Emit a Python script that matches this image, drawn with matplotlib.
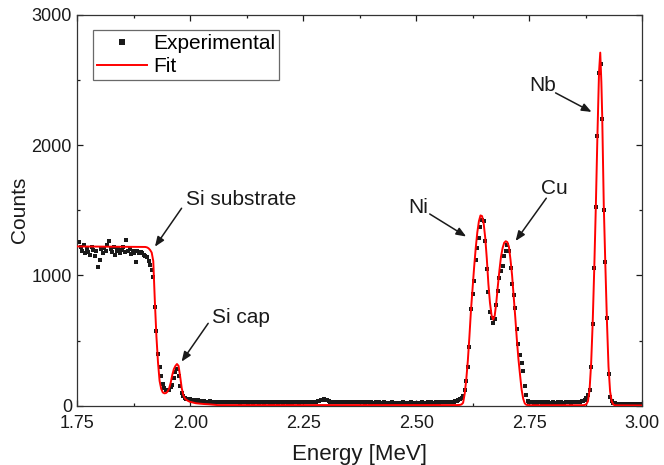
import numpy as np
import matplotlib
matplotlib.use("Agg")
import matplotlib.pyplot as plt

plt.rcParams["font.family"] = ["Liberation Sans", "DejaVu Sans"]

# canales del espectro RBS (calibracion en energia)
e0 = 1.7533
paso = 0.0035

# cuentas experimentales por canal
cuentas = [
    1256, 1215, 1190, 1230, 1170, 1205, 1180, 1160, 1215, 1195,
    1150, 1185, 1062, 1118, 1200, 1175, 1210, 1190, 1230, 1266,
    1200, 1180, 1215, 1160, 1190, 1205, 1170, 1195, 1220, 1180,
    1272, 1185, 1200, 1165, 1190, 1175, 1105, 1185, 1170, 1180,
    1175, 1160, 1150, 1140, 1110, 1080, 1040, 990, 760, 570,
    400, 300, 230, 170, 135, 120, 118, 120, 140, 160,
    210, 260, 285, 230, 150, 100, 75, 60, 55, 52,
    48, 45, 42, 40, 38, 40, 35, 36, 33, 34, 30,
    32, 30, 33, 29, 31, 28, 30, 27, 29, 31, 26, 28, 30, 27, 25, 28, 26, 29, 27, 25,
    27, 24, 26, 28, 25, 27, 23, 26, 28, 24, 26, 25, 27, 23, 25, 28, 24, 26, 25, 27,
    24, 26, 23, 27, 25, 24, 28, 26, 23, 25, 27, 24, 26, 25, 23, 27, 25, 26, 24, 28,
    26, 25, 27, 26, 28, 27, 29, 28, 27, 30, 33, 37, 42, 47, 50, 46, 40, 34, 30, 28,
    27, 26, 29, 28, 30, 27, 29, 31, 28, 30, 29, 27, 30, 28, 26, 29, 27, 25, 28, 26,
    24, 26, 25, 23, 27, 24, 22, 25, 23, 26, 24, 22, 25, 23, 21, 24, 22, 25, 23, 21,
    24, 22, 20, 23, 25, 22, 24, 21, 23, 25, 22, 24, 23, 21, 24, 22, 25, 23, 24, 22,
    25, 23, 26, 24, 22, 25, 27, 24, 26, 25, 28, 26, 27, 29, 28, 30, 31, 33,
    35, 40, 48, 60,
    75, 120, 190, 300, 450, 740, 860, 960, 1120, 1210, 1290, 1370, 1425, 1420,
    1260, 1050, 870, 720, 670, 632, 665, 770, 880, 980, 1030, 1075, 1145, 1190,
    1235, 1190, 1060, 930, 850, 750, 590, 470, 390, 330, 270, 150, 85, 35,
    28, 25, 27, 24, 26, 23, 25, 27, 24, 22, 25, 23, 26, 24, 22, 25, 23, 24,
    26, 22, 25, 23, 24, 26, 25, 27, 24, 26, 28, 27, 29, 30, 32, 34, 38,
    45, 60, 80, 120, 300, 630, 1055, 1525, 2070, 2550, 2620, 2200, 1500, 1100,
    670, 245, 70, 35, 22,
    18, 15, 13, 14, 12, 13, 11, 12, 14, 12, 11, 13, 12, 10, 12, 11, 13, 12,
]
energia = e0 + paso * np.arange(len(cuentas))

# curva de ajuste (nodos)
ajuste_e = [
    1.750, 1.900, 1.9038, 1.9073, 1.9108, 1.9143, 1.9178, 1.9213, 1.9248, 1.9283,
    1.9318, 1.9353, 1.9388, 1.9423, 1.9458, 1.9493, 1.9528, 1.9563, 1.9598, 1.9633,
    1.9668, 1.9703, 1.9738, 1.9773, 1.9808, 1.9843, 1.9878, 1.9913, 1.9948, 1.9983,
    2.005, 2.012, 2.020, 2.030, 2.040, 2.050, 2.060, 2.590,
    2.5968, 2.6003, 2.6038, 2.6073, 2.6108, 2.6143, 2.6178, 2.6213, 2.6248, 2.6283,
    2.6318, 2.6353, 2.6388, 2.6423, 2.6458, 2.6493, 2.6528, 2.6563, 2.6598, 2.6633,
    2.6668, 2.6703, 2.6738, 2.6773, 2.6808, 2.6843, 2.6878, 2.6913, 2.6948, 2.6983,
    2.7018, 2.7053, 2.7088, 2.7123, 2.7158, 2.7193, 2.7228, 2.7263, 2.7298, 2.7333,
    2.7368, 2.7403, 2.7438, 2.750, 2.870,
    2.8733, 2.8768, 2.8803, 2.8838, 2.8873, 2.8908, 2.8943, 2.8978, 2.9013, 2.9048,
    2.9075, 2.9100, 2.9118, 2.9153, 2.9188, 2.9223, 2.9258, 2.9293, 2.9328, 2.9363,
    2.940, 3.000,
]
ajuste_c = [
    1222, 1218, 1215, 1208, 1195, 1175, 1110, 800, 530, 330,
    190, 130, 102, 95, 97, 108, 132, 175, 235, 280,
    305, 320, 305, 225, 135, 82, 56, 45, 37, 31,
    25, 19, 16, 13, 11, 8, 5, 5,
    6, 10, 22, 90, 200, 345, 530, 735, 900, 1065,
    1210, 1330, 1415, 1460, 1455, 1400, 1290, 1130, 935, 790,
    695, 660, 690, 790, 920, 1040, 1145, 1210, 1250, 1262,
    1255, 1220, 1120, 1000, 840, 680, 510, 360, 240, 125,
    55, 18, 7, 4, 4,
    6, 12, 35, 120, 320, 640, 1060, 1540, 2080, 2560,
    2709, 2480, 2230, 1540, 1080, 650, 300, 110, 35, 10,
    3, 2,
]

# etiquetas: texto, posicion del texto, cola y punta de la flecha
etiquetas = ["Si substrate", "Si cap", "Ni", "Cu", "Nb"]
pos_texto = [(1.990, 1579), (2.0476, 673), (2.5033, 1517), (2.8064, 1670), (2.7799, 2454)]
alin_texto = ["left", "left", "center", "center", "center"]
colas = [(1.9805, 1515), (2.0394, 632), (2.5299, 1471), (2.788, 1592), (2.8086, 2400)]
puntas = [(1.9215, 1220), (1.9805, 338), (2.6106, 1298), (2.7201, 1264), (2.8883, 2254)]

fig = plt.figure(figsize=(6.64, 4.65), dpi=100)
ax = fig.add_axes([0.1167, 0.1275, 0.8502, 0.8409])

ax.plot(energia, cuentas, "s", color="#1a1a1a", ms=3.1, mew=0, label="Experimental", zorder=2)
ax.plot(ajuste_e, ajuste_c, color="red", lw=1.4, label="Fit", zorder=3)

for txt, (tx, ty), ha, cola, punta in zip(etiquetas, pos_texto, alin_texto, colas, puntas):
    ax.text(tx, ty, txt, fontsize=15, ha=ha, va="center", color="#1a1a1a")
    ax.annotate("", xy=punta, xytext=cola,
                arrowprops=dict(arrowstyle="-|>,head_length=0.45,head_width=0.18",
                                color="#1a1a1a", lw=1.1, shrinkA=0, shrinkB=0,
                                mutation_scale=13))

ax.set_xlim(1.75, 3.00)
ax.set_ylim(0, 3000)
ax.set_xticks([1.75, 2.00, 2.25, 2.50, 2.75, 3.00])
ax.set_xticks(np.arange(1.875, 3.0, 0.25), minor=True)
ax.set_yticks([0, 1000, 2000, 3000])
ax.set_yticks([500, 1500, 2500], minor=True)
ax.set_xticklabels(["1.75", "2.00", "2.25", "2.50", "2.75", "3.00"])
ax.tick_params(which="both", direction="in", top=True, right=True, width=0.9,
               labelsize=13, colors="#1a1a1a")
ax.tick_params(axis="x", which="major", pad=7)
ax.tick_params(axis="y", which="major", pad=4)
ax.tick_params(which="major", length=4.5)
ax.tick_params(which="minor", length=2.5)
for s in ax.spines.values():
    s.set_linewidth(0.9)
    s.set_color("#333333")

ax.set_xlabel("Energy [MeV]", fontsize=16, color="#1a1a1a", labelpad=8)
ax.set_ylabel("Counts", fontsize=15, color="#1a1a1a", labelpad=2)

leg = ax.legend(loc="upper left", bbox_to_anchor=(0.027, 0.961), borderaxespad=0,
                fontsize=15, frameon=True, fancybox=False, handlelength=2.4,
                handletextpad=0.3, labelspacing=0.2, borderpad=0.2,
                markerscale=1.2)
leg.get_frame().set_edgecolor("#444444")
leg.get_frame().set_linewidth(0.9)

fig.savefig("out.png", dpi=100)
